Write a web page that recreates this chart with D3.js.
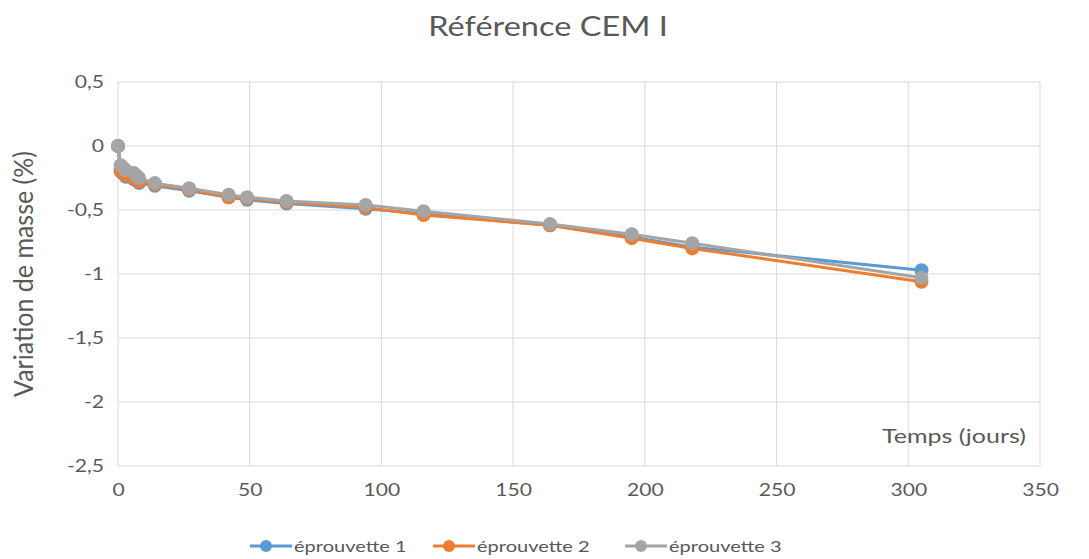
<!DOCTYPE html>
<html><head><meta charset="utf-8">
<script src="https://cdn.jsdelivr.net/npm/d3@7"></script>
<style>body{margin:0;background:#fff}svg{display:block}</style>
</head><body>
<svg id="c" width="1089" height="559"></svg>
<script>
const title = "Référence CEM I";
const xTitle = "Temps (jours)";
const yTitle = "Variation de masse (%)";
const days = [0, 1, 2, 3, 6, 7, 8, 14, 27, 42, 49, 64, 94, 116, 164, 195, 218, 305];
const eprouvette1 = [0, -0.20, -0.22, -0.24, -0.26, -0.27, -0.29, -0.31, -0.35, -0.40, -0.42, -0.45, -0.49, -0.53, -0.62, -0.71, -0.79, -0.97];
const eprouvette2 = [0, -0.19, -0.21, -0.23, -0.25, -0.26, -0.28, -0.30, -0.34, -0.40, -0.41, -0.44, -0.48, -0.54, -0.62, -0.72, -0.80, -1.06];
const eprouvette3 = [0, -0.15, -0.17, -0.19, -0.21, -0.23, -0.25, -0.29, -0.33, -0.38, -0.40, -0.43, -0.46, -0.51, -0.61, -0.69, -0.76, -1.03];
const seriesNames = ["éprouvette 1", "éprouvette 2", "éprouvette 3"];
const xTicks = [0, 50, 100, 150, 200, 250, 300, 350];
const yTicks = [0.5, 0, -0.5, -1, -1.5, -2, -2.5];

const colors = ["#5b9bd5", "#ed7d31", "#a5a5a5"];
const series = [eprouvette1, eprouvette2, eprouvette3].map((v, i) => ({
  name: seriesNames[i], color: colors[i], pts: days.map((d, j) => ({x: d, y: v[j]}))
}));

const SX = 1.25;
const FONT = "Lato, 'Open Sans', sans-serif";
const TXT = "#595959";
const svg = d3.select("#c");
const x = d3.scaleLinear().domain([0, 350]).range([118, 1040]);
const y = d3.scaleLinear().domain([-2.5, 0.5]).range([466, 82]);
const fmt = v => String(v).replace(".", ",");

function txt(g, s, px, py, size, anchor, rot) {
  return g.append("text").text(s)
    .attr("transform", `translate(${px},${py})` + (rot ? " rotate(-90) scale(1,1.1)" : ` scale(${SX},1)`))
    .attr("text-anchor", anchor).attr("font-family", FONT).attr("font-size", size).attr("fill", TXT);
}

// grid
const grid = svg.append("g");
grid.selectAll(".gx").data(xTicks).join("line")
  .attr("x1", d => x(d)).attr("x2", d => x(d)).attr("y1", y(0.5)).attr("y2", y(-2.5))
  .attr("stroke", "#d9d9d9").attr("stroke-width", 1);
grid.selectAll(".gy").data(yTicks).join("line")
  .attr("x1", x(0)).attr("x2", x(350)).attr("y1", d => y(d)).attr("y2", d => y(d))
  .attr("stroke", "#d9d9d9").attr("stroke-width", 1);

// axes via d3 axis (labels only)
const xAxis = svg.append("g").attr("transform", `translate(0,${y(-2.5)})`)
  .call(d3.axisBottom(x).tickValues(xTicks).tickSize(0).tickPadding(0).tickFormat(fmt));
xAxis.select(".domain").remove();
xAxis.selectAll("text").attr("font-family", FONT).attr("font-size", 16.5).attr("fill", TXT)
  .attr("dy", null).attr("y", 0)
  .attr("transform", `translate(0,30) scale(1.28,1)`);

const yAxis = svg.append("g").attr("transform", `translate(${x(0)},0)`)
  .call(d3.axisLeft(y).tickValues(yTicks).tickSize(0).tickPadding(0).tickFormat(fmt));
yAxis.select(".domain").remove();
yAxis.selectAll("text").attr("font-family", FONT).attr("font-size", 16.5).attr("fill", TXT)
  .attr("x", 0).attr("dy", "0.35em")
  .attr("transform", `translate(-14,0) scale(1.28,1)`);

// lines & markers
const line = d3.line().x(d => x(d.x)).y(d => y(d.y));
series.forEach(s => {
  const g = svg.append("g");
  g.append("path").datum(s.pts).attr("d", line).attr("fill", "none")
    .attr("stroke", s.color).attr("stroke-width", 3).attr("stroke-linejoin", "round");
  g.selectAll("circle").data(s.pts).join("circle")
    .attr("cx", d => x(d.x)).attr("cy", d => y(d.y)).attr("r", 7).attr("fill", s.color);
});

// titles
txt(svg, title, 548, 36, 26, "middle");
txt(svg, xTitle, 954, 443, 20, "middle");
txt(svg, yTitle, 33, 274, 25, "middle", true);

// legend
const legX = [250, 433, 625];
series.forEach((s, i) => {
  const g = svg.append("g");
  g.append("line").attr("x1", legX[i]).attr("x2", legX[i] + 42).attr("y1", 546).attr("y2", 546)
    .attr("stroke", s.color).attr("stroke-width", 3);
  g.append("circle").attr("cx", legX[i] + 16).attr("cy", 546).attr("r", 6).attr("fill", s.color);
  txt(g, s.name, legX[i] + 44, 552, 16, "start");
});
</script>
</body></html>
